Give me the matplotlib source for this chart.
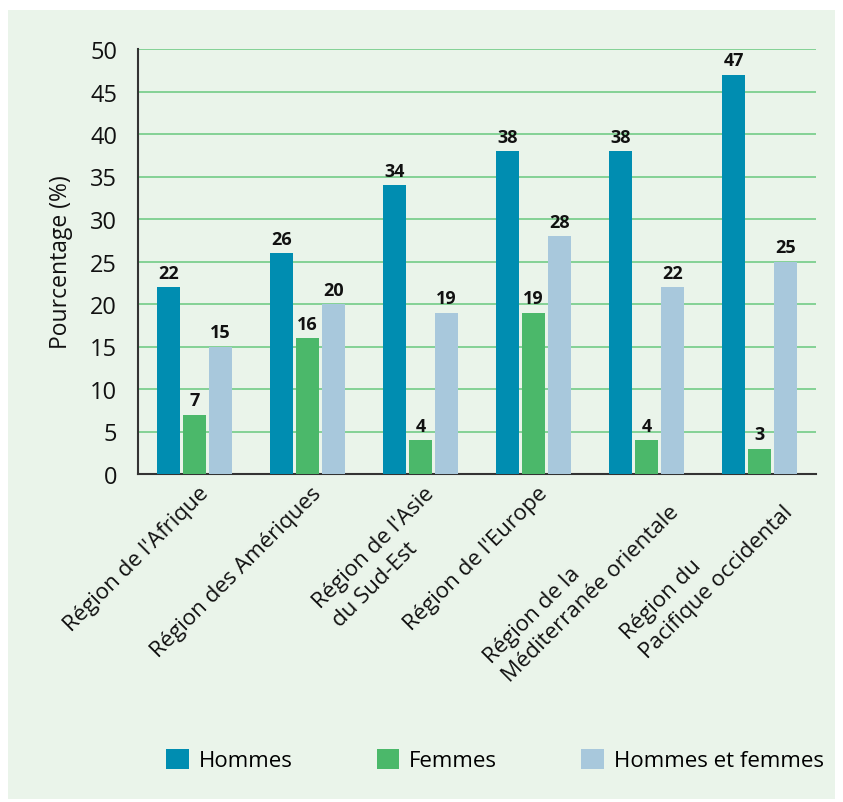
import numpy as np
import matplotlib.pyplot as plt
from matplotlib.patches import Rectangle

plt.rcParams['font.family'] = ['Open Sans', 'DejaVu Sans']

regions = ["Région de l'Afrique", "Région des Amériques", "Région de l'Asie\ndu Sud-Est",
           "Région de l'Europe", "Région de la\nMéditerranée orientale",
           "Région du\nPacifique occidental"]
hommes = [22, 26, 34, 38, 38, 47]
femmes = [7, 16, 4, 19, 4, 3]
ensemble = [15, 20, 19, 28, 22, 25]

series = [("Hommes", hommes, "#008db1"),
          ("Femmes", femmes, "#4bb86a"),
          ("Hommes et femmes", ensemble, "#a8c8dc")]

bg = "#eaf4ea"
fig = plt.figure(figsize=(8.43, 8.03), dpi=100, facecolor="white")
fig.patches.append(Rectangle((8 / 843, 1 - 800 / 803), 827 / 843, 789 / 803,
                             transform=fig.transFigure, facecolor=bg, edgecolor="none", zorder=-10))
ax = fig.add_axes([138 / 843, 1 - 475 / 803, 678 / 843, 425 / 803])
ax.set_facecolor(bg)

x = np.arange(len(regions))
w = 0.21
step = 0.23
for i, (name, vals, col) in enumerate(series):
    pos = x + (i - 1) * step
    ax.bar(pos, vals, width=w, color=col, label=name, zorder=3)
    for p, v in zip(pos, vals):
        ax.text(p, v + 0.6, str(v), ha="center", va="bottom", fontsize=13,
                fontweight="bold", color="#111111", zorder=4)

ax.set_xlim(-0.5, len(regions) - 0.5)
ax.set_ylim(0, 50)
ax.set_yticks(range(0, 51, 5))
ax.yaxis.grid(True, color="#7ccf8f", linewidth=1.3, zorder=0)
ax.set_axisbelow(True)
for s in ["top", "right"]:
    ax.spines[s].set_visible(False)
for s in ["left", "bottom"]:
    ax.spines[s].set_color("#333333")
    ax.spines[s].set_linewidth(1.5)
ax.tick_params(axis="y", length=0, labelsize=17, pad=15, colors="#111111")
ax.tick_params(axis="x", length=0, labelsize=16, pad=6, colors="#111111")
ax.set_xticks(x + 0.03)
ax.set_xticklabels(regions, rotation=45, ha="right", rotation_mode="anchor",
                   multialignment="left", linespacing=1.35)
ax.set_ylabel("Pourcentage (%)", fontsize=16.5, color="#111111", labelpad=12)

fig.legend(loc="center", bbox_to_anchor=(495 / 843, 1 - 761 / 803), ncol=3,
           frameon=False, fontsize=16, handlelength=1.0, handleheight=1.0,
           handletextpad=0.45, columnspacing=3.8)

fig.savefig("out.png", dpi=100, facecolor="white")
